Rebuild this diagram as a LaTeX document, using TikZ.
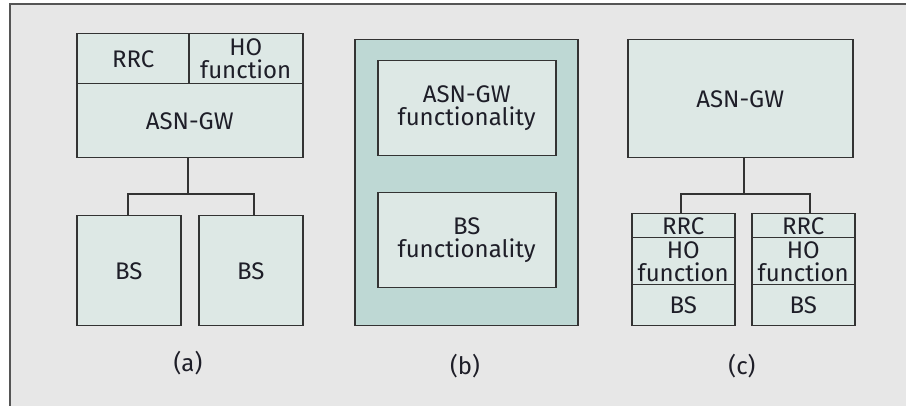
\documentclass[tikz,border=0pt]{standalone}
\usepackage{fontspec}
\setmainfont{Fira Sans}
\definecolor{bgc}{HTML}{E7E7E7}
\definecolor{boxc}{HTML}{DDE8E5}
\definecolor{outc}{HTML}{BED8D4}
\definecolor{edge}{HTML}{333333}
\definecolor{framec}{HTML}{555555}
\definecolor{txt}{HTML}{1E1E28}
\begin{document}
\begin{tikzpicture}[x=1pt,y=-1pt,
  box/.style={draw=edge, line width=1.5pt, fill=boxc, inner sep=0pt, anchor=north west, align=center, text=txt, font=\fontsize{24}{23}\selectfont},
  wire/.style={draw=edge, line width=1.5pt},
  sublabel/.style={font=\fontsize{24}{23}\selectfont, text=txt}]
\useasboundingbox (0,0) rectangle (906,406);
\fill[bgc] (10,4) rectangle (906,406);
\draw[framec, line width=1.8pt] (10,406) -- (10,4) -- (906,4);
% panel (a)
\node[box, minimum width=113pt, minimum height=50pt] (rrca) at (76,33) {RRC};
\node[box, minimum width=114pt, minimum height=50pt] (hoa) at (188,33) {HO\\function};
\node[box, minimum width=226pt, minimum height=74pt] (asna) at (76,83) {ASN-GW};
\node[box, minimum width=104pt, minimum height=110pt] (bs1a) at (76,215) {BS};
\node[box, minimum width=104pt, minimum height=110pt] (bs2a) at (198,215) {BS};
\coordinate (ja) at (188,194);
\coordinate (xa1) at (128,0);
\coordinate (xa2) at (254,0);
\draw[wire] (asna.south -| ja) -- (ja);
\draw[wire] (bs1a.north -| xa1) |- (ja) -| (bs2a.north -| xa2);
\node[sublabel] (la) at (188,363) {(a)};
% panel (b)
\node[box, fill=outc, minimum width=223pt, minimum height=286pt] (outb) at (354,39) {};
\node[box, minimum width=178pt, minimum height=95pt] (asnb) at (377,60) {ASN-GW\\functionality};
\node[box, minimum width=178pt, minimum height=95pt] (bsb) at (377,192) {BS\\functionality};
\node[sublabel] (lb) at (465,366) {(b)};
% panel (c)
\node[box, minimum width=225pt, minimum height=118pt] (asnc) at (627,39) {ASN-GW};
\node[box, minimum width=103pt, minimum height=24pt] (rrc1) at (631,213) {RRC};
\node[box, minimum width=103pt, minimum height=47pt] (ho1) at (631,237) {HO\\function};
\node[box, minimum width=103pt, minimum height=41pt] (bs1c) at (631,284) {BS};
\node[box, minimum width=103pt, minimum height=24pt] (rrc2) at (751,213) {RRC};
\node[box, minimum width=103pt, minimum height=47pt] (ho2) at (751,237) {HO\\function};
\node[box, minimum width=103pt, minimum height=41pt] (bs2c) at (751,284) {BS};
\coordinate (jc) at (744,194);
\coordinate (xc1) at (681,0);
\coordinate (xc2) at (810,0);
\draw[wire] (asnc.south -| jc) -- (jc);
\draw[wire] (rrc1.north -| xc1) |- (jc) -| (rrc2.north -| xc2);
\node[sublabel] (lc) at (742,366) {(c)};
\end{tikzpicture}
\end{document}
